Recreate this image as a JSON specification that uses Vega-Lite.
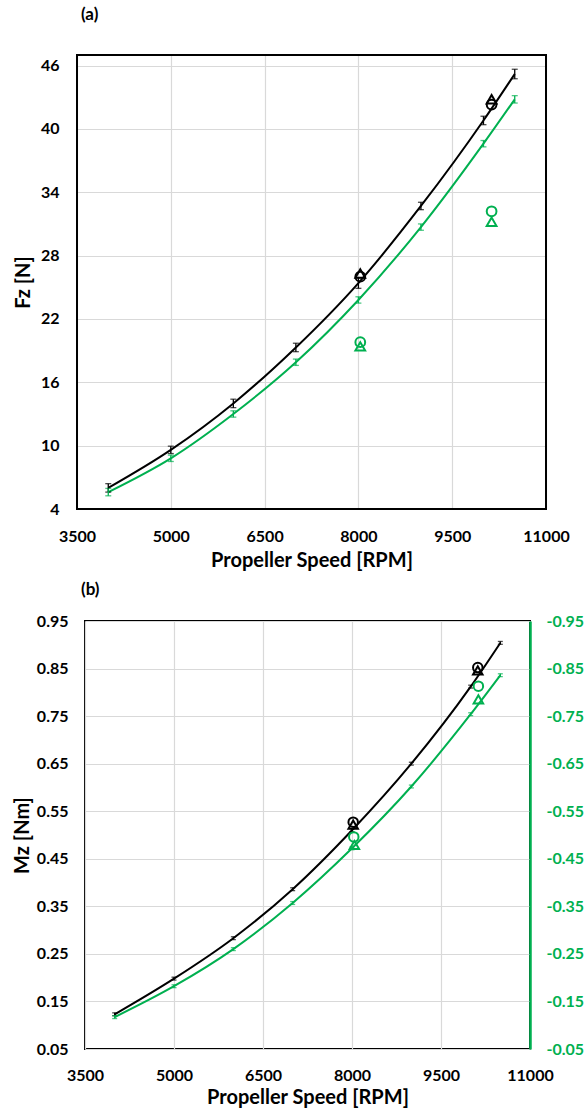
{
  "$schema": "https://vega.github.io/schema/vega-lite/v6.json",
  "padding": {"left": 11, "top": 6, "right": 0, "bottom": 0},
  "background": "white",
  "datasets": {
    "fz": [
      {"rpm": 4000, "Fz": 6.0, "err": 0.4, "series": "Set 1"},
      {"rpm": 5000, "Fz": 9.6, "err": 0.35, "series": "Set 1"},
      {"rpm": 6000, "Fz": 14.0, "err": 0.4, "series": "Set 1"},
      {"rpm": 7000, "Fz": 19.3, "err": 0.4, "series": "Set 1"},
      {"rpm": 8000, "Fz": 25.4, "err": 0.5, "series": "Set 1"},
      {"rpm": 9000, "Fz": 32.7, "err": 0.35, "series": "Set 1"},
      {"rpm": 10000, "Fz": 40.8, "err": 0.4, "series": "Set 1"},
      {"rpm": 10500, "Fz": 45.2, "err": 0.45, "series": "Set 1"},
      {"rpm": 4000, "Fz": 5.6, "err": 0.35, "series": "Set 2"},
      {"rpm": 5000, "Fz": 8.8, "err": 0.3, "series": "Set 2"},
      {"rpm": 6000, "Fz": 13.0, "err": 0.3, "series": "Set 2"},
      {"rpm": 7000, "Fz": 17.9, "err": 0.3, "series": "Set 2"},
      {"rpm": 8000, "Fz": 23.8, "err": 0.3, "series": "Set 2"},
      {"rpm": 9000, "Fz": 30.7, "err": 0.3, "series": "Set 2"},
      {"rpm": 10000, "Fz": 38.6, "err": 0.3, "series": "Set 2"},
      {"rpm": 10500, "Fz": 42.8, "err": 0.35, "series": "Set 2"}
    ],
    "fzModel": [
      {"rpm": 8030, "Fz": 26.0, "series": "Set 1", "model": "Model 1"},
      {"rpm": 8030, "Fz": 26.3, "series": "Set 1", "model": "Model 2"},
      {"rpm": 10130, "Fz": 42.3, "series": "Set 1", "model": "Model 1"},
      {"rpm": 10130, "Fz": 42.8, "series": "Set 1", "model": "Model 2"},
      {"rpm": 8030, "Fz": 19.8, "series": "Set 2", "model": "Model 1"},
      {"rpm": 8030, "Fz": 19.4, "series": "Set 2", "model": "Model 2"},
      {"rpm": 10130, "Fz": 32.2, "series": "Set 2", "model": "Model 1"},
      {"rpm": 10130, "Fz": 31.2, "series": "Set 2", "model": "Model 2"}
    ],
    "fzFrame": [
      {"rpmMin": 3500, "rpmMax": 11000, "fzMin": 4, "fzMax": 47}
    ],
    "mz": [
      {"rpm": 4000, "Mz": 0.123, "err": 0.003, "series": "Set 1"},
      {"rpm": 5000, "Mz": 0.198, "err": 0.003, "series": "Set 1"},
      {"rpm": 6000, "Mz": 0.283, "err": 0.003, "series": "Set 1"},
      {"rpm": 7000, "Mz": 0.386, "err": 0.003, "series": "Set 1"},
      {"rpm": 8000, "Mz": 0.51, "err": 0.003, "series": "Set 1"},
      {"rpm": 9000, "Mz": 0.65, "err": 0.003, "series": "Set 1"},
      {"rpm": 10000, "Mz": 0.812, "err": 0.003, "series": "Set 1"},
      {"rpm": 10500, "Mz": 0.904, "err": 0.003, "series": "Set 1"},
      {"rpm": 4000, "Mz": -0.117, "err": 0.003, "series": "Set 2"},
      {"rpm": 5000, "Mz": -0.182, "err": 0.003, "series": "Set 2"},
      {"rpm": 6000, "Mz": -0.26, "err": 0.003, "series": "Set 2"},
      {"rpm": 7000, "Mz": -0.357, "err": 0.003, "series": "Set 2"},
      {"rpm": 8000, "Mz": -0.472, "err": 0.003, "series": "Set 2"},
      {"rpm": 9000, "Mz": -0.602, "err": 0.003, "series": "Set 2"},
      {"rpm": 10000, "Mz": -0.754, "err": 0.003, "series": "Set 2"},
      {"rpm": 10500, "Mz": -0.836, "err": 0.003, "series": "Set 2"}
    ],
    "mzModel": [
      {"rpm": 8020, "Mz": 0.527, "series": "Set 1", "model": "Model 1"},
      {"rpm": 8020, "Mz": 0.522, "series": "Set 1", "model": "Model 2"},
      {"rpm": 10120, "Mz": 0.852, "series": "Set 1", "model": "Model 1"},
      {"rpm": 10120, "Mz": 0.846, "series": "Set 1", "model": "Model 2"},
      {"rpm": 8030, "Mz": -0.496, "series": "Set 2", "model": "Model 1"},
      {"rpm": 8040, "Mz": -0.479, "series": "Set 2", "model": "Model 2"},
      {"rpm": 10130, "Mz": -0.813, "series": "Set 2", "model": "Model 1"},
      {"rpm": 10130, "Mz": -0.785, "series": "Set 2", "model": "Model 2"}
    ]
  },
  "concat": [
    {
      "width": 461,
      "height": 454,
      "view": {"stroke": null},
      "title": {"text": "(a)", "anchor": "start", "frame": "group", "fontSize": 17, "fontWeight": "bold", "font": "Lato", "offset": 30, "dx": -4},
      "encoding": {
        "x": {
          "field": "rpm", "type": "quantitative",
          "scale": {"domain": [3500, 11000], "range": [-8, 461], "nice": false, "zero": false},
          "axis": {"values": [3500, 5000, 6500, 8000, 9500, 11000], "format": "d", "title": "Propeller Speed [RPM]", "labelPadding": 19, "titlePadding": 6, "labelFlush": false}
        },
        "y": {
          "field": "Fz", "type": "quantitative",
          "scale": {"domain": [4, 47], "nice": false, "zero": false},
          "axis": {"values": [4, 10, 16, 22, 28, 34, 40, 46], "title": "Fz [N]", "labelPadding": 26, "titlePadding": 7}
        }
      },
      "layer": [
        {
          "data": {"name": "fz"},
          "mark": {"type": "line", "interpolate": "monotone", "strokeWidth": 2},
          "encoding": {"color": {"field": "series", "type": "nominal", "scale": {"domain": ["Set 1", "Set 2"], "range": ["#000000", "#00b050"]}, "legend": null}}
        },
        {
          "data": {"name": "fz"},
          "mark": {"type": "errorbar", "ticks": {"size": 6}, "thickness": 1.3},
          "encoding": {"yError": {"field": "err"}, "color": {"field": "series", "type": "nominal", "legend": null}}
        },
        {
          "data": {"name": "fzModel"},
          "mark": {"type": "point", "filled": false, "strokeWidth": 2, "size": 95, "opacity": 1},
          "encoding": {
            "color": {"field": "series", "type": "nominal", "legend": null},
            "shape": {"field": "model", "type": "nominal", "scale": {"domain": ["Model 1", "Model 2"], "range": ["circle", "triangle-up"]}, "legend": null}
          }
        },
        {
          "data": {"name": "fzFrame"},
          "mark": {"type": "rect", "fill": "transparent", "stroke": "#000000", "strokeWidth": 2, "opacity": 1},
          "encoding": {
            "x": {"field": "rpmMin", "type": "quantitative"},
            "x2": {"field": "rpmMax"},
            "y": {"field": "fzMin", "type": "quantitative"},
            "y2": {"field": "fzMax"}
          }
        }
      ]
    },
    {
      "width": 445,
      "height": 428,
      "title": {"text": "(b)", "anchor": "start", "frame": "group", "fontSize": 17, "fontWeight": "bold", "font": "Lato", "offset": 14, "dx": -4},
      "encoding": {
        "x": {
          "field": "rpm", "type": "quantitative",
          "scale": {"domain": [3500, 11000], "nice": false, "zero": false},
          "axis": {"values": [3500, 5000, 6500, 8000, 9500, 11000], "format": "d", "title": "Propeller Speed [RPM]", "labelPadding": 18, "titlePadding": 4, "labelFlush": false}
        },
        "color": {"field": "series", "type": "nominal", "scale": {"domain": ["Set 1", "Set 2"], "range": ["#000000", "#00b050"]}, "legend": null}
      },
      "layer": [
        {
          "encoding": {
            "y": {
              "field": "Mz", "type": "quantitative",
              "scale": {"domain": [0.05, 0.95], "nice": false, "zero": false},
              "axis": {"values": [0.05, 0.15, 0.25, 0.35, 0.45, 0.55, 0.65, 0.75, 0.85, 0.95], "format": ".2f", "title": "Mz [Nm]", "labelPadding": 17, "titlePadding": 4}
            }
          },
          "layer": [
            {"data": {"name": "mz"}, "transform": [{"filter": "datum.series === 'Set 1'"}], "mark": {"type": "line", "interpolate": "monotone", "strokeWidth": 2}},
            {"data": {"name": "mz"}, "transform": [{"filter": "datum.series === 'Set 1'"}], "mark": {"type": "errorbar", "ticks": {"size": 5}, "thickness": 1.3}, "encoding": {"yError": {"field": "err"}}},
            {
              "data": {"name": "mzModel"}, "transform": [{"filter": "datum.series === 'Set 1'"}],
              "mark": {"type": "point", "filled": false, "strokeWidth": 2, "size": 90, "opacity": 1},
              "encoding": {"shape": {"field": "model", "type": "nominal", "scale": {"domain": ["Model 1", "Model 2"], "range": ["circle", "triangle-up"]}, "legend": null}}
            }
          ]
        },
        {
          "encoding": {
            "y": {
              "field": "Mz", "type": "quantitative",
              "scale": {"domain": [-0.05, -0.95], "nice": false, "zero": false},
              "axis": {
                "orient": "right", "values": [-0.05, -0.15, -0.25, -0.35, -0.45, -0.55, -0.65, -0.75, -0.85, -0.95],
                "labelExpr": "'-' + format(abs(datum.value), '.2f')", "title": null, "grid": false,
                "labelColor": "#00b050", "domain": true, "domainColor": "#00b050", "domainWidth": 2.5, "labelPadding": 16
              }
            }
          },
          "layer": [
            {"data": {"name": "mz"}, "transform": [{"filter": "datum.series === 'Set 2'"}], "mark": {"type": "line", "interpolate": "monotone", "strokeWidth": 2}},
            {"data": {"name": "mz"}, "transform": [{"filter": "datum.series === 'Set 2'"}], "mark": {"type": "errorbar", "ticks": {"size": 5}, "thickness": 1.3}, "encoding": {"yError": {"field": "err"}}},
            {
              "data": {"name": "mzModel"}, "transform": [{"filter": "datum.series === 'Set 2'"}],
              "mark": {"type": "point", "filled": false, "strokeWidth": 2, "size": 90, "opacity": 1},
              "encoding": {"shape": {"field": "model", "type": "nominal", "scale": {"domain": ["Model 1", "Model 2"], "range": ["circle", "triangle-up"]}, "legend": null}}
            }
          ]
        }
      ],
      "resolve": {"scale": {"y": "independent"}, "axis": {"y": "independent"}}
    }
  ],
  "columns": 1,
  "spacing": 10,
  "config": {
    "font": "Lato",
    "view": {"stroke": "#000000", "strokeWidth": 2},
    "axis": {
      "labelFont": "Lato", "labelFontSize": 16, "labelFontWeight": "bold", "labelColor": "#000000",
      "titleFont": "Lato", "titleFontSize": 20, "titleFontWeight": "bold", "titleColor": "#000000",
      "gridColor": "#d9d9d9", "gridWidth": 1.2, "ticks": false, "domain": false
    }
  }
}
